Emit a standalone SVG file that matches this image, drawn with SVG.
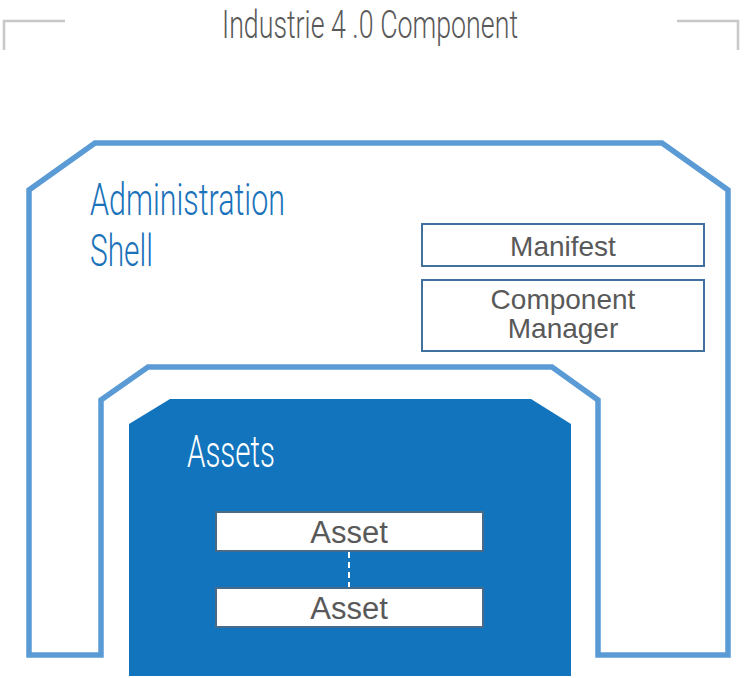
<svg xmlns="http://www.w3.org/2000/svg" width="744" height="678" viewBox="0 0 744 678">
<style>
.cond{font-family:Roboto,"Liberation Sans",sans-serif;font-weight:300}
.lbl{font-family:"Liberation Sans",Arial,sans-serif;fill:#595959;text-anchor:middle}
.box{fill:#fff;stroke:#41719c;stroke-width:2}
.abox{fill:#fff;stroke:#4a6a8a;stroke-width:2}
</style>
<rect width="744" height="678" fill="#fff"/>
<g id="frame">
<path d="M4,50 V21 H65 M677,21 H738 V50" fill="none" stroke="#c8c8c8" stroke-width="2.5"/>
<text class="cond" x="222" y="38" font-size="38" fill="#595959" textLength="296" lengthAdjust="spacingAndGlyphs">Industrie 4 .0 Component</text>
</g>
<g id="admin-shell">
<path d="M29,655 V190 L95,143 H662 L728,190 V655 H598 V400 L552,367 H148 L101,400 V655 Z" fill="#fff" stroke="#5b9bd5" stroke-width="5.5" stroke-linejoin="miter"/>
<text class="cond" x="90" y="215" font-size="45" fill="#1a72ba" textLength="195" lengthAdjust="spacingAndGlyphs">Administration</text>
<text class="cond" x="90" y="266" font-size="45" fill="#1a72ba" textLength="63" lengthAdjust="spacingAndGlyphs">Shell</text>
</g>
<g id="manifest">
<rect class="box" x="422" y="224" width="282" height="42"/>
<text class="lbl" x="563" y="256" font-size="28">Manifest</text>
</g>
<g id="component-manager">
<rect class="box" x="422" y="280" width="282" height="71"/>
<text class="lbl" x="563" y="309" font-size="28">Component</text>
<text class="lbl" x="563" y="338" font-size="28">Manager</text>
</g>
<g id="assets">
<path d="M129,424 L170,399 H531 L571,424 V676 H129 Z" fill="#1274bd"/>
<text class="cond" x="187" y="467" font-size="45" fill="#fff" textLength="88" lengthAdjust="spacingAndGlyphs">Assets</text>
</g>
<g id="connectors">
<line x1="349" y1="552" x2="349" y2="588" stroke="#fff" stroke-width="2" stroke-dasharray="6,4"/>
</g>
<g id="asset1">
<rect class="abox" x="216" y="512" width="267" height="39"/>
<text class="lbl" x="349" y="543" font-size="31">Asset</text>
</g>
<g id="asset2">
<rect class="abox" x="216" y="588" width="267" height="39"/>
<text class="lbl" x="349" y="619" font-size="31">Asset</text>
</g>
</svg>
